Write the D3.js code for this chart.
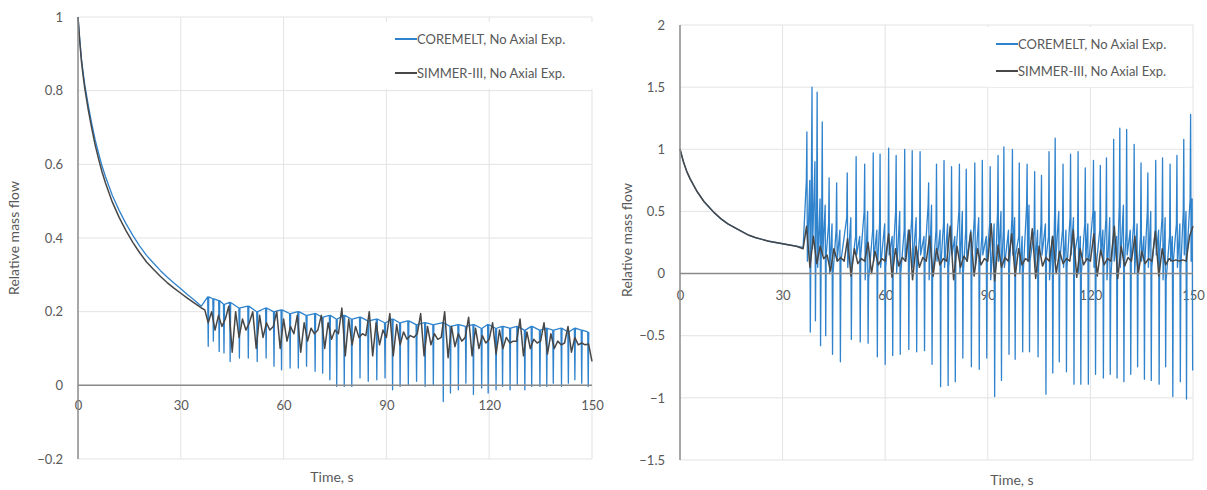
<!DOCTYPE html>
<html>
<head>
<meta charset="utf-8">
<script src="https://cdn.jsdelivr.net/npm/d3@7"></script>
<style>
body { margin: 0; background: #fff; }
text { font-family: Lato, "Open Sans", sans-serif; fill: #595959; }
</style>
</head>
<body>
<svg id="chart" width="1207" height="490"></svg>
<script>
// ---- data ----
var seriesNames = ["COREMELT, No Axial Exp.", "SIMMER-III, No Axial Exp."];
var xTicks = [0, 30, 60, 90, 120, 150];
var leftYTicks = [-0.2, 0, 0.2, 0.4, 0.6, 0.8, 1];
var rightYTicks = [-1.5, -1, -0.5, 0, 0.5, 1, 1.5, 2];

// smooth decay at the start, same times for all series
var decayTime = [0, 0.5, 1, 1.5, 2, 3, 4, 5, 6, 7, 8, 10, 12, 14, 16, 18, 20, 22, 24, 26, 28, 30, 32, 34, 36];
var leftCoremeltDecay = [1, 0.941, 0.888, 0.849, 0.815, 0.76, 0.711, 0.667, 0.63, 0.596, 0.567, 0.516, 0.475, 0.439, 0.407, 0.378, 0.353, 0.332, 0.312, 0.294, 0.278, 0.262, 0.246, 0.231, 0.215];
var leftSimmerDecay = [1, 0.935, 0.88, 0.84, 0.805, 0.748, 0.698, 0.653, 0.615, 0.58, 0.55, 0.498, 0.456, 0.42, 0.388, 0.36, 0.335, 0.315, 0.296, 0.279, 0.264, 0.25, 0.236, 0.223, 0.21];
var rightCoremeltDecay = [1, 0.95, 0.9, 0.86, 0.82, 0.76, 0.71, 0.66, 0.62, 0.58, 0.55, 0.49, 0.44, 0.40, 0.37, 0.34, 0.31, 0.29, 0.275, 0.26, 0.25, 0.24, 0.23, 0.22, 0.21];
var rightSimmerDecay = [1, 0.95, 0.9, 0.86, 0.82, 0.76, 0.71, 0.66, 0.62, 0.58, 0.55, 0.49, 0.44, 0.40, 0.37, 0.34, 0.31, 0.29, 0.275, 0.26, 0.25, 0.24, 0.23, 0.22, 0.2];

// left chart, COREMELT: downward spikes
var leftSpikeTime = [38.0, 39.5, 41.2, 42.6, 44.4, 47.1, 49.7, 52.3, 54.9, 57.2,
    59.4, 61.9, 64.3, 66.7, 69.2, 71.4, 73.5, 75.5, 77.7, 79.9,
    82.3, 84.7, 87.2, 89.6, 91.8, 94.0, 96.4, 98.8, 101.3, 103.7,
    106.6, 108.7, 111.0, 113.2, 115.4, 117.8, 119.7, 122.0, 123.9, 126.1,
    128.2, 130.4, 132.4, 134.8, 136.8, 138.7, 141.1, 143.1, 145.0, 147.0, 148.9];
var leftSpikeHigh = [0.24, 0.235, 0.23, 0.22, 0.225, 0.21, 0.215, 0.2, 0.21, 0.2,
    0.205, 0.195, 0.2, 0.19, 0.195, 0.185, 0.19, 0.18, 0.19, 0.18,
    0.185, 0.175, 0.18, 0.17, 0.18, 0.17, 0.175, 0.165, 0.17, 0.165,
    0.17, 0.16, 0.165, 0.16, 0.165, 0.155, 0.165, 0.155, 0.16, 0.155,
    0.16, 0.15, 0.16, 0.15, 0.155, 0.15, 0.155, 0.145, 0.155, 0.15, 0.145];
var leftSpikeLow = [0.106, 0.12, 0.092, 0.088, 0.065, 0.074, 0.074, 0.065, 0.074, 0.052,
    0.042, 0.047, 0.047, 0.052, 0.038, 0.033, 0.015, -0.003, -0.003, -0.003,
    0.02, 0.011, 0.015, 0.02, -0.012, -0.003, 0.002, 0.011, -0.003, 0.002,
    -0.044, -0.021, -0.012, 0.006, -0.025, -0.007, -0.021, -0.012, -0.003, -0.012,
    0.002, -0.012, -0.003, -0.003, -0.003, 0.006, -0.003, 0.006, 0.015, 0.006, -0.003];

// left chart, SIMMER-III: one value per second from 37 s
var leftSimmerOscStart = 37;
var leftSimmerOsc = [0.205, 0.17, 0.2, 0.15, 0.19, 0.16, 0.18, 0.215, 0.09, 0.2,
    0.13, 0.18, 0.15, 0.17, 0.2, 0.1, 0.19, 0.13, 0.17, 0.15,
    0.16, 0.2, 0.1, 0.18, 0.12, 0.16, 0.14, 0.19, 0.09, 0.17,
    0.12, 0.155, 0.14, 0.15, 0.19, 0.1, 0.17, 0.125, 0.15, 0.14,
    0.21, 0.08, 0.18, 0.11, 0.16, 0.13, 0.14, 0.135, 0.2, 0.08,
    0.17, 0.11, 0.15, 0.13, 0.195, 0.08, 0.165, 0.11, 0.145, 0.125,
    0.135, 0.13, 0.14, 0.195, 0.08, 0.16, 0.11, 0.14, 0.125, 0.13,
    0.2, 0.075, 0.16, 0.105, 0.14, 0.12, 0.13, 0.185, 0.08, 0.155,
    0.1, 0.135, 0.115, 0.125, 0.17, 0.085, 0.15, 0.1, 0.13, 0.115,
    0.12, 0.12, 0.18, 0.08, 0.145, 0.1, 0.125, 0.115, 0.12, 0.17,
    0.085, 0.14, 0.1, 0.12, 0.11, 0.115, 0.16, 0.09, 0.13, 0.11,
    0.115, 0.11, 0.112, 0.065];

// right chart, COREMELT: each cycle has an up spike and a down spike
var rightUpTime = [37.1, 38.6, 40.1, 41.6, 43.6, 45.8, 48.9, 51.5, 54.0, 56.5,
    58.5, 61.0, 63.2, 65.7, 67.9, 70.2, 72.7, 75.0, 77.2, 79.4,
    81.7, 83.7, 86.2, 88.4, 90.7, 93.0, 94.7, 97.2, 99.2, 101.5,
    103.7, 105.7, 107.9, 109.7, 112.0, 114.2, 116.4, 118.5, 120.9, 122.9,
    124.7, 126.8, 128.6, 130.6, 132.8, 134.8, 136.8, 139.1, 141.1, 143.3,
    145.3, 147.3, 149.3];
var rightUp = [1.14, 1.50, 1.46, 1.22, 0.77, 0.73, 0.81, 0.94, 0.88, 0.97,
    0.96, 1.01, 0.95, 1.0, 0.99, 0.98, 0.73, 0.88, 0.91, 0.86,
    0.88, 0.84, 0.89, 0.91, 0.86, 0.95, 1.02, 1.0, 0.89, 0.88,
    0.82, 0.79, 0.98, 1.09, 0.88, 0.96, 0.98, 0.85, 0.91, 0.87,
    0.93, 1.08, 1.17, 1.16, 1.04, 0.89, 0.81, 0.91, 0.93, 0.88,
    0.95, 1.08, 1.28];
var rightDownTime = [38.1, 39.6, 41.1, 42.6, 44.6, 46.9, 50.1, 52.7, 55.0, 57.7,
    60.0, 62.2, 64.4, 66.9, 69.2, 71.5, 73.7, 76.2, 78.4, 80.5,
    82.7, 85.2, 87.5, 89.7, 92.0, 94.0, 96.2, 98.0, 100.2, 102.2,
    104.7, 107.0, 109.0, 110.9, 113.0, 115.2, 117.2, 119.4, 121.5, 123.8,
    125.8, 127.8, 129.8, 131.8, 133.8, 135.8, 137.8, 140.1, 142.0, 144.1,
    146.3, 148.1, 149.9];
var rightDown = [-0.47, -0.38, -0.58, -0.50, -0.65, -0.71, -0.53, -0.55, -0.56, -0.67,
    -0.73, -0.66, -0.65, -0.61, -0.63, -0.62, -0.73, -0.91, -0.90, -0.87,
    -0.68, -0.75, -0.77, -0.68, -0.99, -0.86, -0.65, -0.69, -0.63, -0.63,
    -0.67, -0.97, -0.80, -0.71, -0.79, -0.89, -0.89, -0.89, -0.81, -0.84,
    -0.81, -0.84, -0.87, -0.81, -0.75, -0.85, -0.86, -0.89, -0.75, -0.99,
    -0.87, -1.01, -0.78];
// values around the spikes (inside the dense band)
var rightMid = [0.75, 0.9, 0.6, 0.55, 0.4, 0.35, 0.45, 0.3, 0.5, 0.35,
    0.4, 0.3, 0.5, 0.35, 0.45, 0.3, 0.55, 0.35, 0.4, 0.3,
    0.5, 0.35, 0.45, 0.3, 0.4, 0.5, 0.35, 0.45, 0.3, 0.55,
    0.35, 0.4, 0.3, 0.5, 0.35, 0.45, 0.3, 0.4, 0.5, 0.35,
    0.45, 0.3, 0.55, 0.35, 0.4, 0.3, 0.5, 0.35, 0.45, 0.3,
    0.4, 0.5, 0.6];
var rightLow = [0.1, 0.2, 0.05, 0.15, 0.0, 0.1, 0.05, 0.15, -0.05, 0.1,
    0.05, 0.15, 0.0, 0.1, 0.05, 0.15, -0.05, 0.1, 0.05, 0.15,
    0.0, 0.1, 0.05, 0.15, -0.05, 0.1, 0.05, 0.15, 0.0, 0.1,
    0.05, 0.15, -0.05, 0.1, 0.05, 0.15, 0.0, 0.1, 0.05, 0.15,
    -0.05, 0.1, 0.05, 0.15, 0.0, 0.1, 0.05, 0.15, -0.05, 0.1,
    0.05, 0.15, 0.1];

// right chart, SIMMER-III: one value per second from 36 s
var rightSimmerOscStart = 36;
var rightSimmerOsc = [0.2, 0.38, 0.05, 0.3, 0.08, 0.22, 0.12, 0.15, 0.02, 0.2,
    0.1, 0.13, 0.1, 0.28, -0.02, 0.2, 0.08, 0.12, 0.1, 0.25,
    0.0, 0.18, 0.07, 0.12, 0.1, 0.32, -0.03, 0.2, 0.06, 0.13,
    0.1, 0.35, -0.05, 0.22, 0.05, 0.13, 0.1, 0.3, -0.02, 0.2,
    0.07, 0.12, 0.1, 0.38, -0.05, 0.22, 0.05, 0.14, 0.1, 0.33,
    -0.02, 0.2, 0.07, 0.12, 0.1, 0.4, -0.06, 0.23, 0.05, 0.13,
    0.1, 0.32, -0.02, 0.2, 0.07, 0.12, 0.1, 0.36, -0.04, 0.22,
    0.06, 0.13, 0.1, 0.3, 0.0, 0.18, 0.08, 0.12, 0.1, 0.35,
    -0.03, 0.2, 0.07, 0.12, 0.1, 0.32, -0.02, 0.19, 0.07, 0.12,
    0.1, 0.38, -0.04, 0.22, 0.06, 0.13, 0.1, 0.3, 0.0, 0.18,
    0.08, 0.12, 0.1, 0.34, -0.02, 0.2, 0.07, 0.12, 0.1, 0.11,
    0.1, 0.11, 0.1, 0.3, 0.38];

// ---- style ----
var blue = "#2f82cc";
var grey = "#474747";
var gridColor = "#e3e3e3";
var axisColor = "#8a8a8a";
var spikeHalf = 0.15;   // half width of a spike, in seconds

// ---- build point lists from the arrays ----
function decayPoints(values) {
    return decayTime.map(function(t, i) { return [t, values[i]]; });
}

function stepPoints(start, values) {
    return values.map(function(v, i) { return [start + i, v]; });
}

var leftCoremelt = decayPoints(leftCoremeltDecay);
leftSpikeTime.forEach(function(t, i) {
    leftCoremelt.push([t - spikeHalf, leftSpikeHigh[i]]);
    leftCoremelt.push([t, leftSpikeLow[i]]);
    leftCoremelt.push([t + spikeHalf, leftSpikeHigh[i]]);
});
var leftSimmer = decayPoints(leftSimmerDecay).concat(stepPoints(leftSimmerOscStart, leftSimmerOsc));

var rightCoremelt = decayPoints(rightCoremeltDecay);
rightUpTime.forEach(function(t, i) {
    var td = rightDownTime[i];
    rightCoremelt.push([t - spikeHalf, rightMid[i]]);
    rightCoremelt.push([t, rightUp[i]]);
    rightCoremelt.push([t + spikeHalf, rightLow[i]]);
    rightCoremelt.push([td - spikeHalf, rightMid[i]]);
    rightCoremelt.push([td, rightDown[i]]);
    if (td + spikeHalf <= 150) {
        rightCoremelt.push([td + spikeHalf, rightLow[i]]);
    }
});
var rightSimmer = decayPoints(rightSimmerDecay).concat(stepPoints(rightSimmerOscStart, rightSimmerOsc));

var svg = d3.select("#chart");

function drawPanel(cfg) {
    var g = svg.append("g");
    var x = d3.scaleLinear().domain([0, 150]).range([cfg.x0, cfg.x1]);
    var y = d3.scaleLinear().domain(cfg.yDomain).range([cfg.y1, cfg.y0]);

    // grid
    g.selectAll("line.hgrid")
        .data(cfg.yTicks)
        .enter()
        .append("line")
        .attr("x1", cfg.x0).attr("x2", cfg.x1)
        .attr("y1", function(d) { return y(d); })
        .attr("y2", function(d) { return y(d); })
        .attr("stroke", gridColor)
        .attr("stroke-width", 1);

    g.selectAll("line.vgrid")
        .data(xTicks.slice(1))
        .enter()
        .append("line")
        .attr("x1", function(d) { return x(d); })
        .attr("x2", function(d) { return x(d); })
        .attr("y1", cfg.y0).attr("y2", cfg.y1)
        .attr("stroke", gridColor)
        .attr("stroke-width", 1);

    // y axis labels
    var yAxis = d3.axisLeft(y)
        .tickValues(cfg.yTicks)
        .tickSize(0)
        .tickPadding(15)
        .tickFormat(function(d) { return d3.format("")(+d.toFixed(1)); });
    var ya = g.append("g")
        .attr("transform", "translate(" + cfg.x0 + ",0)")
        .call(yAxis);
    ya.select(".domain").remove();
    ya.selectAll("text")
        .attr("font-family", "Lato, sans-serif")
        .attr("font-size", "13px")
        .attr("fill", "#595959");

    // x axis labels sit under the zero line
    var xAxis = d3.axisBottom(x)
        .tickValues(xTicks)
        .tickSize(0)
        .tickPadding(cfg.xLabelPad)
        .tickFormat(d3.format("d"));
    var xa = g.append("g")
        .attr("transform", "translate(0," + y(0) + ")")
        .call(xAxis);
    xa.select(".domain").remove();
    xa.selectAll("text")
        .attr("font-family", "Lato, sans-serif")
        .attr("font-size", "13px")
        .attr("fill", "#595959");

    var line = d3.line()
        .x(function(d) { return x(d[0]); })
        .y(function(d) { return y(d[1]); });

    g.append("path")
        .datum(cfg.coremelt)
        .attr("d", line)
        .attr("fill", "none")
        .attr("stroke", blue)
        .attr("stroke-width", 1.3)
        .attr("stroke-linejoin", "round");

    g.append("path")
        .datum(cfg.simmer)
        .attr("d", line)
        .attr("fill", "none")
        .attr("stroke", grey)
        .attr("stroke-width", 1.5)
        .attr("stroke-linejoin", "round");

    // zero line and vertical axis
    g.append("line")
        .attr("x1", cfg.x0).attr("x2", cfg.x1)
        .attr("y1", y(0)).attr("y2", y(0))
        .attr("stroke", axisColor)
        .attr("stroke-width", 1.5);
    g.append("line")
        .attr("x1", cfg.x0).attr("x2", cfg.x0)
        .attr("y1", cfg.y0).attr("y2", cfg.y1)
        .attr("stroke", axisColor)
        .attr("stroke-width", 1.5);

    // axis titles
    g.append("text")
        .attr("x", cfg.xTitle[0]).attr("y", cfg.xTitle[1])
        .attr("text-anchor", "middle")
        .attr("font-size", "14px")
        .text("Time, s");
    g.append("text")
        .attr("transform", "translate(" + cfg.yTitle[0] + "," + cfg.yTitle[1] + ") rotate(-90)")
        .attr("text-anchor", "middle")
        .attr("font-size", "14px")
        .text("Relative mass flow");

    // legend
    var lg = g.append("g")
        .attr("transform", "translate(" + cfg.legend[0] + "," + cfg.legend[1] + ")");
    lg.append("rect")
        .attr("x", -10).attr("y", -17)
        .attr("width", cfg.legendW).attr("height", cfg.legendGap + 33)
        .attr("fill", "#fff");
    [blue, grey].forEach(function(c, i) {
        var ly = i * cfg.legendGap;
        lg.append("line")
            .attr("x1", 0).attr("x2", 22)
            .attr("y1", ly).attr("y2", ly)
            .attr("stroke", c)
            .attr("stroke-width", 2);
        lg.append("text")
            .attr("x", 22).attr("y", ly)
            .attr("dy", "0.35em")
            .attr("font-size", "13px")
            .text(seriesNames[i]);
    });
}

drawPanel({
    x0: 78, x1: 592, y0: 17, y1: 459,
    yDomain: [-0.2, 1], yTicks: leftYTicks, xLabelPad: 15,
    coremelt: leftCoremelt, simmer: leftSimmer,
    xTitle: [332, 482], yTitle: [19, 238],
    legend: [395, 39], legendGap: 34, legendW: 212
});

drawPanel({
    x0: 680, x1: 1193, y0: 25, y1: 460,
    yDomain: [-1.5, 2], yTicks: rightYTicks, xLabelPad: 17,
    coremelt: rightCoremelt, simmer: rightSimmer,
    xTitle: [1012, 485], yTitle: [632, 240],
    legend: [996, 44], legendGap: 27, legendW: 205
});
</script>
</body>
</html>
